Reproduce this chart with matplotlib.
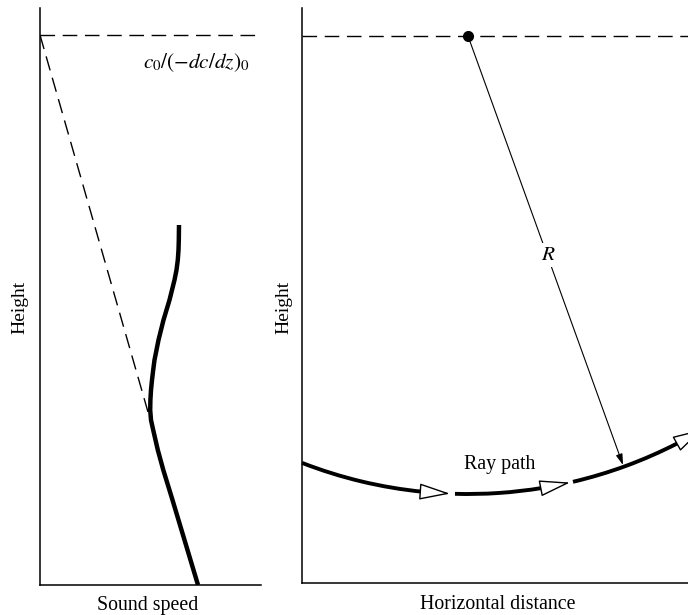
import numpy as np
import matplotlib
matplotlib.use("Agg")
import matplotlib.pyplot as plt
from matplotlib.patches import Arc

plt.rcParams['font.family'] = ['Liberation Serif', 'DejaVu Serif']
plt.rcParams['mathtext.fontset'] = 'stix'

# ---------------- data ----------------
# Left panel: sound-speed profile (speed, height)
profile_speed = [139, 138.8, 138.5, 137.8, 136.5, 134.5, 132, 129.5, 126.5,
                 123.5, 121, 118.5, 116.5, 114.5, 113.2, 112, 111, 110.4,
                 110.2, 111, 113.2, 115.5, 117.8, 123.3, 132.5, 144.5, 158]
profile_height = [360, 345, 335, 325, 315, 305, 295, 285, 275,
                  265, 255, 245, 235, 225, 215, 205, 195, 185,
                  175, 165, 155, 145, 135, 115, 85, 45, 0]
# dashed tangent extension and reference level
tangent_speed = [0, 108]
tangent_height = [550, 173]
ref_level_speed = [0, 216]
ref_level_height = [550, 550]
ref_label = r'$c_0/(-dc/dz)_0$'

# Right panel: ray path as a circular arc about the centre on the reference level
centre_x, centre_z = 166, 547
radius = 458
level_x = [0, 386]
level_z = [547, 547]
# solid segments of the ray path (start/end angle, degrees)
segment_theta1 = [248.75, 268.37, 283.25]
segment_theta2 = [264.36, 279.30, 297.15]
# hollow arrow heads (tail angle, tip angle)
head_tail = [264.36, 279.30, 297.15]
head_tip = [267.75, 282.87, 300.87]
radius_tip = (321, 118)
radius_label_pos = (246, 328)
ray_label_pos = (198, 118)

W, H = 688, 615
fig = plt.figure(figsize=(W / 100, H / 100), dpi=100)

# ---------------- left panel ----------------
axL = fig.add_axes([40 / W, (H - 585) / H, 221 / W, 577 / H])
axL.set_xlim(0, 221)
axL.set_ylim(0, 577)
for s in ['top', 'right']:
    axL.spines[s].set_visible(False)
for s in ['left', 'bottom']:
    axL.spines[s].set_linewidth(1.1)
axL.set_xticks([])
axL.set_yticks([])
axL.plot(profile_speed, profile_height, color='black', lw=3.2,
         solid_capstyle='butt', solid_joinstyle='round')
axL.plot(tangent_speed, tangent_height, color='black', lw=1.0,
         linestyle=(0, (10.5, 5.5)))
axL.plot(ref_level_speed, ref_level_height, color='black', lw=1.0,
         linestyle=(0, (10.5, 5.5)))
axL.text(210, 517, ref_label, ha='right', va='baseline', fontsize=15.3)
axL.set_xlabel('Sound speed', fontsize=14.3, va='center')
axL.xaxis.set_label_coords(0.489, -0.035)
axL.set_ylabel('Height', fontsize=14, va='center')
axL.yaxis.set_label_coords(-0.09, 0.482)

# ---------------- right panel ----------------
axR = fig.add_axes([302 / W, (H - 583) / H, 386 / W, 575 / H])
axR.set_xlim(0, 386)
axR.set_ylim(0, 575)
for s in ['top', 'right']:
    axR.spines[s].set_visible(False)
for s in ['left', 'bottom']:
    axR.spines[s].set_linewidth(1.1)
axR.set_xticks([])
axR.set_yticks([])
axR.plot(level_x, level_z, color='black', lw=1.0, linestyle=(0, (10.5, 5.5)),
         clip_on=False)
axR.plot([centre_x], [centre_z], 'o', color='black', markersize=7, zorder=5)

for t1, t2 in zip(segment_theta1, segment_theta2):
    axR.add_patch(Arc((centre_x, centre_z), 2 * radius, 2 * radius,
                      theta1=t1, theta2=t2, lw=2.8, color='black',
                      capstyle='butt', clip_on=False))

for ta, tb in zip(head_tail, head_tip):
    xa = centre_x + radius * np.cos(np.radians(ta))
    za = centre_z + radius * np.sin(np.radians(ta))
    xb = centre_x + radius * np.cos(np.radians(tb))
    zb = centre_z + radius * np.sin(np.radians(tb))
    axR.annotate('', xy=(xb, zb), xytext=(xa, za), annotation_clip=False,
                 arrowprops=dict(arrowstyle='-|>,head_length=1.95,head_width=0.52',
                                 mutation_scale=10, fc='white', ec='black',
                                 lw=1.0, shrinkA=0, shrinkB=0))

axR.annotate('', xy=radius_tip, xytext=(centre_x, centre_z),
             arrowprops=dict(arrowstyle='-|>,head_length=0.65,head_width=0.2',
                             mutation_scale=10, fc='black', ec='black',
                             lw=0.8, shrinkA=0, shrinkB=0))
axR.text(*radius_label_pos, r'$R$', ha='center', va='center', fontsize=15.3,
         bbox=dict(boxstyle='square,pad=0.1', fc='white', ec='none'), zorder=6)
axR.text(*ray_label_pos, 'Ray path', ha='center', va='center', fontsize=14.3)

axR.set_xlabel('Horizontal distance', fontsize=14.3, va='center')
axR.xaxis.set_label_coords(0.508, -0.038)
axR.set_ylabel('Height', fontsize=14, va='center')
axR.yaxis.set_label_coords(-0.047, 0.48)

fig.savefig('out.png', dpi=100)
